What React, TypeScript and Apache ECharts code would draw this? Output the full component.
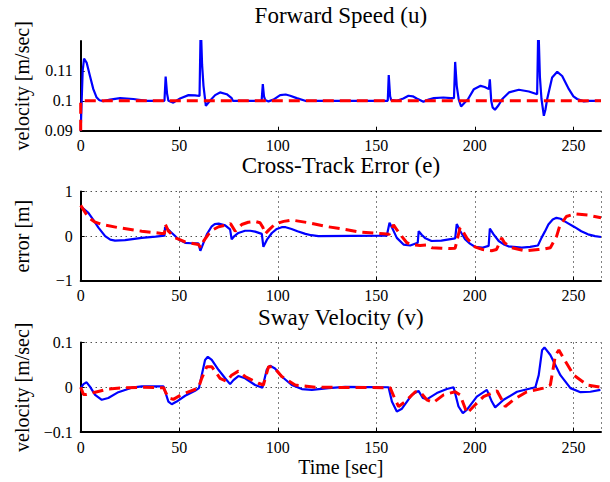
import React, { useEffect, useRef } from "react";
import * as echarts from "echarts";

const titles = ["Forward Speed (u)", "Cross-Track Error (e)", "Sway Velocity (v)"];
const yNames = ["velocity [m/sec]", "error [m]", "velocity [m/sec]"];
const xName = "Time [sec]";

const uActual: [number, number][] = [
  [0, 0.09], [0.5, 0.1], [1, 0.11], [1.7, 0.1141], [3, 0.1128], [4.7, 0.1083], [6.4, 0.1039], [8, 0.1012],
  [9.5, 0.1002], [11.5, 0.0999], [14.9, 0.1004], [20, 0.1009], [26.7, 0.1006], [33.5, 0.1], [42.5, 0.1],
  [43.1, 0.1081], [43.8, 0.1025], [44.5, 0.1], [47, 0.0994], [50.4, 0.1008], [54.7, 0.1019], [58, 0.1018],
  [60.3, 0.1016], [60.9, 0.126], [61.6, 0.112], [62.3, 0.105], [63.5, 0.0983], [65.6, 0.1], [68.2, 0.1019],
  [70.7, 0.1028], [74.1, 0.1022], [76.6, 0.1009], [77.2, 0.1], [91.8, 0.1], [92.4, 0.1056], [93, 0.1015],
  [93.6, 0.1003], [95.3, 0.0998], [97.8, 0.1004], [101.2, 0.1019], [104, 0.1021], [106.3, 0.1017],
  [109.6, 0.1009], [113.9, 0.1], [155.8, 0.1], [156.3, 0.1086], [157, 0.1015], [157.5, 0.1003], [160.4, 0.1],
  [163.7, 0.1008], [166.3, 0.1017], [168.5, 0.1015], [170.5, 0.1008], [173.9, 0.0997], [176.5, 0.1004],
  [179.2, 0.1009], [184, 0.1011], [187.7, 0.1009], [189.4, 0.1009], [190, 0.113], [190.8, 0.105],
  [191.8, 0.1005], [193, 0.0981], [195, 0.0995], [196.5, 0.1005], [199.5, 0.1039], [202.9, 0.105],
  [205, 0.1046], [207.1, 0.1039], [207.6, 0.1072], [208.3, 0.1], [209, 0.0978], [210.2, 0.097], [212, 0.0985],
  [213.9, 0.1006], [217.3, 0.1028], [222.3, 0.1037], [227.4, 0.1031], [231.6, 0.1022], [232.2, 0.126],
  [233, 0.108], [233.8, 0.1006], [235, 0.095], [235.8, 0.097], [236.7, 0.1006], [239.2, 0.1078],
  [241.8, 0.1097], [244.3, 0.1083], [247.7, 0.1039], [250, 0.1015], [251.9, 0.1006], [255.3, 0.0998],
  [258, 0.1], [264, 0.1],
];
const uDesired: [number, number][] = [[0, 0.09], [0, 0.1], [264, 0.1]];

const eActual: [number, number][] = [
  [0, 0.67], [3.9, 0.52], [6.5, 0.36], [9, 0.19], [12.4, 0], [15, -0.08], [17.4, -0.1], [22.5, -0.09],
  [31, -0.04], [38, -0.01], [42.5, 0.01], [42.8, 0.2], [45.3, 0.11], [47.5, 0.02], [49.6, -0.07], [53, -0.15],
  [56, -0.16], [59.7, -0.16], [60.7, -0.33], [62.3, -0.15], [64, 0.04], [66.5, 0.22], [68, 0.27], [70, 0.28],
  [73.3, 0.24], [75.8, 0.15], [76.6, -0.07], [78, 0], [80, 0.07], [83.4, 0.12], [86, 0.12], [88.5, 0.1],
  [91.9, 0.05], [92.7, -0.24], [94.5, -0.08], [97, 0.07], [99.5, 0.16], [102, 0.2], [104, 0.2], [107, 0.16],
  [110, 0.11], [114, 0.05], [117, 0.02], [120.6, 0], [155.3, 0.01], [156.7, 0.3], [158.5, 0.14],
  [160.4, -0.04], [163.8, -0.19], [167.2, -0.21], [171, -0.15], [171.5, 0.11], [173, 0.03], [174.9, -0.05],
  [178, -0.11], [183, -0.1], [190, -0.05], [190.8, 0.27], [192.5, 0.12], [195, -0.07], [197.5, -0.17],
  [200, -0.24], [203.7, -0.26], [207, -0.22], [207.6, 0.17], [209.5, 0.04], [212.1, -0.11], [214.5, -0.18],
  [217, -0.23], [223.8, -0.26], [228, -0.24], [232, -0.21], [233.8, -0.04], [235.5, 0.1], [237.3, 0.26],
  [239.5, 0.37], [241.4, 0.41], [243.5, 0.39], [245.6, 0.33], [250.7, 0.2], [254, 0.11], [257.4, 0.04],
  [261, 0], [264, -0.02],
];
const eDesired: [number, number][] = [
  [0, 0.69], [3.9, 0.42], [7, 0.32], [10.7, 0.26], [19, 0.19], [31, 0.11], [41, 0.06], [42.5, 0.06],
  [43, 0.26], [44.5, 0.11], [48, -0.04], [53, -0.13], [59.7, -0.19], [61, -0.26], [62.5, -0.1], [64.8, 0.04],
  [67, 0.14], [70, 0.21], [75, 0.26], [76, 0.28], [78.4, 0.11], [80, 0.18], [81.7, 0.26], [85, 0.31],
  [88.5, 0.33], [91, 0.3], [92.5, 0.19], [93.6, 0.05], [95.5, 0.14], [98.6, 0.27], [103, 0.33], [107, 0.36],
  [115.6, 0.3], [124, 0.22], [134, 0.15], [141.8, 0.09], [153.7, 0.05], [156.5, 0.04], [158.7, 0.25],
  [160, 0.17], [162.1, 0.04], [165.5, -0.15], [169, -0.2], [172.2, -0.21], [175.6, -0.2], [178.2, -0.26],
  [183, -0.27], [187.5, -0.28], [190, -0.27], [192.5, 0.19], [194, 0.1], [196, -0.05], [200, -0.24],
  [204, -0.3], [208.5, -0.33], [211, -0.3], [213.6, -0.04], [215, -0.15], [218.6, -0.26], [225.4, -0.33],
  [232.2, -0.3], [235, -0.29], [238.3, -0.26], [241.5, 0], [243, 0.22], [246.4, 0.44], [250.7, 0.5],
  [257.5, 0.47], [264, 0.41],
];

const vActual: [number, number][] = [
  [0, -0.002], [1.4, 0.007], [3, 0.011], [4.7, 0.0015], [7.3, -0.017], [10.7, -0.028], [14, -0.024],
  [19.1, -0.011], [25.9, -0.001], [31, 0.002], [42, 0.002], [43.1, -0.013], [44.5, -0.032], [46.2, -0.038],
  [48.7, -0.032], [53, -0.019], [58, -0.008], [60, -0.002], [61.4, 0.027], [63.1, 0.061], [64.5, 0.068],
  [66.5, 0.061], [69.9, 0.039], [73.3, 0.02], [75.8, 0.007], [77.5, 0.016], [80, 0.025], [83.4, 0.02],
  [88.5, 0.005], [92.2, -0.001], [94.4, 0.039], [96.1, 0.048], [98.6, 0.042], [102, 0.024], [107.1, 0.005],
  [112.2, -0.004], [117.3, -0.006], [125.7, -0.002], [134.2, 0.001], [156.2, 0], [157.9, -0.032],
  [160.4, -0.054], [163, -0.048], [168, -0.017], [171.4, -0.008], [173.6, -0.024], [175.6, -0.027],
  [180.7, -0.013], [185.8, -0.004], [189.2, 0], [191.7, -0.043], [193.9, -0.058], [196, -0.05],
  [201, -0.021], [206.1, -0.006], [208.6, -0.032], [210.3, -0.045], [214.6, -0.028], [221.4, -0.01],
  [230.7, 0], [232.4, 0.027], [234.1, 0.083], [235.3, 0.089], [238.3, 0.072], [243.4, 0.027],
  [248.5, -0.002], [253.6, -0.011], [258.6, -0.01], [263.7, -0.006],
];
const vDesired: [number, number][] = [
  [0, 0], [1.4, -0.016], [3, -0.016], [7.3, -0.011], [14, -0.004], [22.5, -0.001], [31, 0], [42, -0.001],
  [44.5, -0.024], [47, -0.027], [51.3, -0.016], [59.7, -0.002], [61.4, 0.02], [64, 0.046], [66.5, 0.046],
  [70.7, 0.02], [74.1, 0.013], [76.6, 0.027], [80, 0.036], [83.4, 0.024], [90.2, 0.009], [92.7, 0.005],
  [95.3, 0.046], [97.8, 0.046], [102, 0.024], [108.8, 0.005], [119, 0], [157, -0.001], [159.6, -0.028],
  [161.3, -0.043], [164.7, -0.032], [169.8, -0.01], [172.3, -0.011], [175.6, -0.028], [179, -0.034],
  [184.1, -0.017], [190, -0.01], [192.5, -0.017], [196, -0.058], [199.3, -0.043], [204.4, -0.021],
  [211.2, -0.008], [213.7, -0.028], [215.4, -0.043], [219.6, -0.028], [226.4, -0.01], [234.9, -0.002],
  [238.3, 0.005], [240.9, 0.072], [242.6, 0.083], [245.1, 0.064], [250.2, 0.027], [257, 0.005], [263.7, 0],
];

const yRanges = [
  { min: 0.09, max: 0.12, interval: 0.01, grid: false },
  { min: -1, max: 1, interval: 1, grid: true },
  { min: -0.1, max: 0.1, interval: 0.1, grid: true },
];
const xMin = 0;
const xMax = 264;
const xInterval = 50;

const FONT = "'Liberation Serif', 'Times New Roman', serif";
const GRID_LEFT = 80.7;
const GRID_WIDTH = 520.3;
const gridTops = [41, 191.5, 342.5];
const gridHeights = [89.7, 89.2, 89.5];
const titleY = [15, 165, 317];

const fmt = (v: number) => {
  const s = String(Number(v.toFixed(4)));
  return s.replace("-", "\u2212");
};

export default function App() {
  const ref = useRef<HTMLDivElement>(null);
  useEffect(() => {
    if (!ref.current) return;
    const chart = echarts.init(ref.current, undefined, { renderer: "svg" });
    const actual = [uActual, eActual, vActual];
    const desired = [uDesired, eDesired, vDesired];
    const grids = gridTops.map((top, i) => ({
      left: GRID_LEFT,
      top,
      width: GRID_WIDTH,
      height: gridHeights[i],
      outerBoundsMode: "none",
      containLabel: false,
    }));
    const splitStyle = (show: boolean) => ({
      show,
      lineStyle: { color: "#000", width: 1, type: [1, 4] as any },
    });
    const xAxes = gridTops.map((_, i) => ({
      type: "value",
      gridIndex: i,
      min: xMin,
      max: xMax,
      interval: xInterval,
      axisLine: { show: true, onZero: false, lineStyle: { color: "#000", width: 2 } },
      axisTick: { show: true, inside: true, length: 4, lineStyle: { color: "#000", width: 1 } },
      axisLabel: { color: "#000", fontFamily: FONT, fontSize: 16, margin: 7, showMaxLabel: false, formatter: fmt },
      splitLine: splitStyle(yRanges[i].grid),
    }));
    const yAxes = yRanges.map((r, i) => ({
      type: "value",
      gridIndex: i,
      min: r.min,
      max: r.max,
      interval: r.interval,
      axisLine: { show: true, onZero: false, lineStyle: { color: "#000", width: 2 } },
      axisTick: { show: true, inside: true, length: 4, lineStyle: { color: "#000", width: 1 } },
      axisLabel: {
        color: "#000",
        fontFamily: FONT,
        fontSize: 16,
        margin: 8,
        showMaxLabel: i !== 0,
        formatter: fmt,
      },
      splitLine: splitStyle(r.grid),
    }));
    const series: any[] = [];
    for (let i = 0; i < 3; i++) {
      series.push({
        type: "line",
        xAxisIndex: i,
        yAxisIndex: i,
        data: actual[i],
        showSymbol: false,
        symbol: "none",
        clip: true,
        lineStyle: { color: "#0000ff", width: 2.2 },
        z: 2,
      });
      series.push({
        type: "line",
        xAxisIndex: i,
        yAxisIndex: i,
        data: desired[i],
        showSymbol: false,
        symbol: "none",
        clip: true,
        lineStyle: { color: "#ff0000", width: 3, type: [11, 6] },
        z: 3,
      });
    }
    const graphics: any[] = [];
    titles.forEach((t, i) => {
      graphics.push({
        type: "text",
        x: GRID_LEFT + GRID_WIDTH / 2,
        y: titleY[i],
        style: { text: t, fill: "#000", font: `23px ${FONT}`, textAlign: "center", textVerticalAlign: "middle" },
      });
      graphics.push({
        type: "text",
        x: 22,
        y: gridTops[i] + gridHeights[i] / 2,
        rotation: Math.PI / 2,
        style: { text: yNames[i], fill: "#000", font: `20px ${FONT}`, textAlign: "center", textVerticalAlign: "middle" },
      });
    });
    graphics.push({
      type: "text",
      x: GRID_LEFT + GRID_WIDTH / 2,
      y: 467,
      style: { text: xName, fill: "#000", font: `20px ${FONT}`, textAlign: "center", textVerticalAlign: "middle" },
    });
    chart.setOption({
      animation: false,
      backgroundColor: "#fff",
      grid: grids,
      xAxis: xAxes,
      yAxis: yAxes,
      series,
      graphic: graphics,
    } as any);
    return () => chart.dispose();
  }, []);
  return (
    <div
      ref={ref}
      style={{ position: "absolute", left: 0, top: 0, width: 610, height: 482, background: "#fff" }}
    />
  );
}
